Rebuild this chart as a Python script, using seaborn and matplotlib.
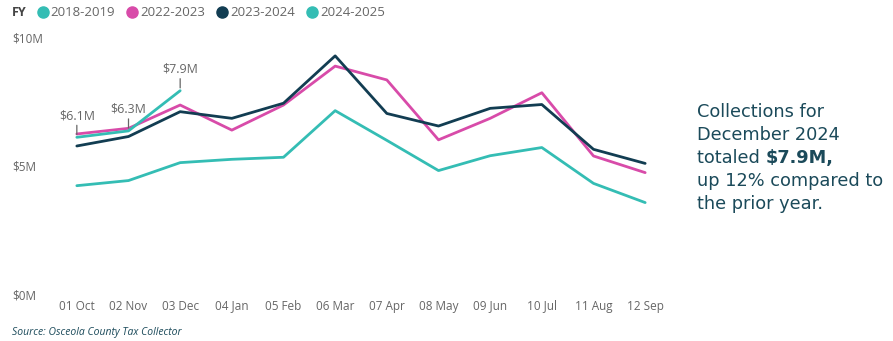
import numpy as np
import pandas as pd
import matplotlib
matplotlib.use("Agg")
import matplotlib.pyplot as plt
import seaborn as sns
from matplotlib.lines import Line2D

# monthly collections in $M
months = ["01 Oct", "02 Nov", "03 Dec", "04 Jan", "05 Feb", "06 Mar",
          "07 Apr", "08 May", "09 Jun", "10 Jul", "11 Aug", "12 Sep"]
fy_2018_2019 = [4.23, 4.43, 5.13, 5.26, 5.34, 7.16, 6.0, 4.82, 5.4, 5.72, 4.32, 3.57]
fy_2022_2023 = [6.25, 6.47, 7.38, 6.4, 7.38, 8.9, 8.36, 6.02, 6.86, 7.86, 5.39, 4.74]
fy_2023_2024 = [5.78, 6.15, 7.12, 6.86, 7.45, 9.3, 7.05, 6.56, 7.25, 7.4, 5.65, 5.1]
fy_2024_2025 = [6.12, 6.37, 7.94]
point_labels = ["$6.1M", "$6.3M", "$7.9M"]

series = {"2018-2019": fy_2018_2019, "2022-2023": fy_2022_2023,
          "2023-2024": fy_2023_2024, "2024-2025": fy_2024_2025}
colors = {"2018-2019": "#34bdb4", "2022-2023": "#d84ba9",
          "2023-2024": "#123d52", "2024-2025": "#34bdb4"}

rows = []
for fy, vals in series.items():
    for i, v in enumerate(vals):
        rows.append({"FY": fy, "idx": i, "value": v})
df = pd.DataFrame(rows)

sns.set_style("white")
plt.rcParams["font.family"] = ["Open Sans", "DejaVu Sans"]
grey = "#666666"
dark = "#1b4a5a"

fig = plt.figure(figsize=(8.93, 3.41), dpi=100)
ax = fig.add_axes([51 / 893, 1 - 294 / 341, 620 / 893, 264 / 341])

sns.lineplot(data=df, x="idx", y="value", hue="FY", palette=colors,
             linewidth=2.0, legend=False, ax=ax, sort=False)

ax.set_xlim(-0.5, 11.5)
ax.set_ylim(0, 10.31)
ax.set_xticks(range(len(months)))
ax.set_xticklabels(months, fontsize=8.5, color=grey)
ax.set_yticks([0, 5, 10])
ax.set_yticklabels(["$0M", "$5M", "$10M"], fontsize=8.5, color=grey)
for lab in ax.get_yticklabels():
    lab.set_ha("left")
ax.tick_params(axis="y", length=0, pad=28)
ax.tick_params(axis="x", length=0, pad=4)
ax.set_xlabel("")
ax.set_ylabel("")
sns.despine(ax=ax, left=True, bottom=True)

# data labels for the current year
for i, (v, t) in enumerate(zip(fy_2024_2025, point_labels)):
    ax.annotate(t, xy=(i, v), xytext=(0, 11), textcoords="offset points",
                ha="center", va="bottom", fontsize=9, color=grey,
                arrowprops=dict(arrowstyle="-", color=grey, lw=0.9,
                                shrinkA=0, shrinkB=2))

# legend header
fig.text(12 / 893, 1 - 13 / 341, "FY", fontsize=9, fontweight="bold",
         color="#444444", va="center")
handles = [Line2D([0], [0], marker="o", linestyle="", markersize=8,
                  markerfacecolor=colors[k], markeredgecolor=colors[k])
           for k in series]
fig.legend(handles, list(series.keys()), loc="center left",
           bbox_to_anchor=(28 / 893, 1 - 13 / 341), ncol=4, frameon=False,
           fontsize=9.5, handletextpad=0.0, columnspacing=0.7,
           handlelength=1.2, borderpad=0, labelcolor=grey)

# callout text on the right
x0 = 697 / 893
lines_y = [112, 135, 158, 181, 204]
fs = 12.8
fig.text(x0, 1 - lines_y[0] / 341, "Collections for", fontsize=fs, color=dark,
         family="DejaVu Sans", va="center")
fig.text(x0, 1 - lines_y[1] / 341, "December 2024", fontsize=fs, color=dark,
         family="DejaVu Sans", va="center")
t1 = fig.text(x0, 1 - lines_y[2] / 341, "totaled ", fontsize=fs, color=dark,
              family="DejaVu Sans", va="center")
fig.canvas.draw()
bb = t1.get_window_extent()
fig.text(bb.x1 / fig.bbox.width, 1 - lines_y[2] / 341, "$7.9M,", fontsize=fs,
         color=dark, family="DejaVu Sans", fontweight="bold", va="center")
fig.text(x0, 1 - lines_y[3] / 341, "up 12% compared to", fontsize=fs,
         color=dark, family="DejaVu Sans", va="center")
fig.text(x0, 1 - lines_y[4] / 341, "the prior year.", fontsize=fs, color=dark,
         family="DejaVu Sans", va="center")

fig.text(12 / 893, 1 - 332 / 341, "Source: Osceola County Tax Collector",
         fontsize=7.5, style="italic", color=dark, va="center")

fig.savefig("out.png", dpi=100)
